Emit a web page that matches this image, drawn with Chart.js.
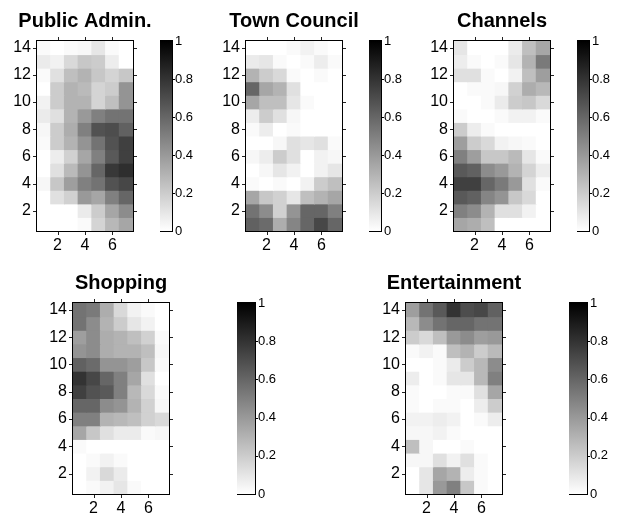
<!DOCTYPE html>
<html><head><meta charset="utf-8">
<script src="https://cdn.jsdelivr.net/npm/chart.js@4/dist/chart.umd.min.js"></script>
<style>
html,body{margin:0;padding:0;background:#fff;width:622px;height:522px;overflow:hidden;position:relative;}
canvas{position:absolute;}
</style></head><body>
<script>
// ---- data ----
const cols = [1, 2, 3, 4, 5, 6, 7];
const rows = [14, 13, 12, 11, 10, 9, 8, 7, 6, 5, 4, 3, 2, 1];
const xTicks = [2, 4, 6];
const yTicks = [2, 4, 6, 8, 10, 12, 14];
const cbTicks = [0, 0.2, 0.4, 0.6, 0.8, 1];
const titles = ['Public Admin.', 'Town Council', 'Channels', 'Shopping', 'Entertainment'];

// rows listed from y=14 (top) down to y=1 (bottom), columns 1..7
const publicAdmin = [
  [0.02,0.00,0.02,0.03,0.10,0.02,0.00],
  [0.08,0.05,0.15,0.22,0.20,0.07,0.00],
  [0.02,0.12,0.25,0.30,0.22,0.17,0.22],
  [0.00,0.20,0.30,0.27,0.17,0.20,0.42],
  [0.05,0.20,0.30,0.30,0.17,0.25,0.42],
  [0.08,0.12,0.30,0.40,0.50,0.55,0.55],
  [0.03,0.20,0.32,0.50,0.68,0.70,0.62],
  [0.02,0.20,0.30,0.42,0.55,0.68,0.75],
  [0.00,0.07,0.18,0.35,0.50,0.65,0.75],
  [0.00,0.12,0.27,0.42,0.60,0.78,0.82],
  [0.03,0.22,0.38,0.50,0.55,0.68,0.72],
  [0.00,0.12,0.18,0.40,0.35,0.50,0.60],
  [0.00,0.00,0.00,0.08,0.20,0.35,0.45],
  [0.00,0.00,0.00,0.02,0.17,0.28,0.35]
];
const townCouncil = [
  [0.00,0.00,0.00,0.02,0.05,0.02,0.00],
  [0.08,0.10,0.02,0.00,0.02,0.07,0.02],
  [0.30,0.20,0.15,0.02,0.00,0.02,0.00],
  [0.60,0.35,0.30,0.12,0.00,0.00,0.00],
  [0.35,0.25,0.25,0.10,0.02,0.00,0.00],
  [0.07,0.20,0.12,0.03,0.00,0.00,0.00],
  [0.02,0.07,0.00,0.02,0.00,0.00,0.00],
  [0.00,0.00,0.03,0.12,0.10,0.12,0.02],
  [0.03,0.07,0.20,0.12,0.00,0.05,0.03],
  [0.00,0.03,0.10,0.05,0.00,0.05,0.10],
  [0.02,0.00,0.02,0.00,0.05,0.20,0.25],
  [0.35,0.22,0.18,0.10,0.25,0.30,0.35],
  [0.55,0.45,0.18,0.42,0.60,0.60,0.50],
  [0.62,0.58,0.32,0.48,0.60,0.72,0.60]
];
const channels = [
  [0.10,0.00,0.00,0.00,0.08,0.25,0.35],
  [0.07,0.02,0.00,0.02,0.10,0.30,0.52],
  [0.12,0.12,0.02,0.00,0.05,0.25,0.38],
  [0.00,0.02,0.02,0.03,0.18,0.32,0.28],
  [0.00,0.00,0.02,0.08,0.20,0.22,0.15],
  [0.02,0.00,0.00,0.02,0.05,0.05,0.02],
  [0.20,0.07,0.02,0.00,0.00,0.00,0.00],
  [0.38,0.20,0.15,0.05,0.03,0.02,0.00],
  [0.50,0.38,0.22,0.22,0.27,0.10,0.02],
  [0.65,0.62,0.45,0.40,0.30,0.17,0.07],
  [0.75,0.75,0.60,0.52,0.40,0.12,0.02],
  [0.65,0.62,0.48,0.42,0.22,0.15,0.00],
  [0.50,0.45,0.30,0.12,0.12,0.05,0.00],
  [0.35,0.32,0.25,0.00,0.00,0.00,0.00]
];
const shopping = [
  [0.55,0.52,0.32,0.15,0.05,0.02,0.00],
  [0.55,0.45,0.30,0.20,0.10,0.05,0.00],
  [0.38,0.45,0.32,0.30,0.25,0.18,0.02],
  [0.42,0.45,0.32,0.30,0.30,0.25,0.03],
  [0.62,0.58,0.42,0.42,0.38,0.22,0.02],
  [0.80,0.72,0.60,0.50,0.35,0.12,0.00],
  [0.75,0.68,0.65,0.50,0.28,0.15,0.02],
  [0.60,0.60,0.45,0.42,0.30,0.18,0.03],
  [0.50,0.50,0.30,0.28,0.25,0.18,0.15],
  [0.35,0.22,0.12,0.08,0.08,0.02,0.03],
  [0.02,0.00,0.00,0.00,0.00,0.00,0.00],
  [0.00,0.02,0.05,0.02,0.00,0.00,0.00],
  [0.00,0.05,0.15,0.08,0.00,0.00,0.00],
  [0.00,0.02,0.05,0.10,0.02,0.00,0.00]
];
const entertainment = [
  [0.38,0.55,0.65,0.80,0.70,0.72,0.62],
  [0.28,0.45,0.55,0.60,0.60,0.55,0.55],
  [0.20,0.15,0.25,0.40,0.45,0.38,0.40],
  [0.02,0.05,0.02,0.25,0.30,0.20,0.27],
  [0.00,0.00,0.02,0.08,0.20,0.28,0.45],
  [0.07,0.00,0.02,0.10,0.10,0.28,0.50],
  [0.02,0.00,0.00,0.02,0.02,0.12,0.35],
  [0.02,0.00,0.02,0.02,0.00,0.07,0.20],
  [0.05,0.05,0.07,0.05,0.00,0.02,0.07],
  [0.03,0.03,0.05,0.02,0.00,0.00,0.00],
  [0.25,0.03,0.00,0.00,0.02,0.00,0.00],
  [0.03,0.03,0.12,0.05,0.12,0.02,0.00],
  [0.00,0.10,0.35,0.30,0.07,0.02,0.00],
  [0.00,0.10,0.40,0.50,0.22,0.02,0.00]
];
const panelValues = [publicAdmin, townCouncil, channels, shopping, entertainment];

// ---- layout (pixels) ----
const layouts = [
  {l: 37,  t: 41,  w: 96, h: 190, cbl: 160, cbw: 12},
  {l: 246, t: 41,  w: 96, h: 190, cbl: 369, cbw: 12},
  {l: 454, t: 41,  w: 96, h: 190, cbl: 577, cbw: 12},
  {l: 73,  t: 303, w: 96, h: 191, cbl: 237, cbw: 18},
  {l: 406, t: 303, w: 96, h: 191, cbl: 569, cbw: 18}
];
const YW = 40, TH = 40, XH = 28, PR = 40;
const FONT = '"Liberation Sans", Arial, Helvetica, sans-serif';

Chart.defaults.font.family = FONT;
Chart.defaults.color = '#000';

function gray(v) {
  const g = Math.round(255 * (1 - v));
  return `rgb(${g},${g},${g})`;
}

// title centred over the plot box, drawn without width compression
const panelTitlePlugin = {
  id: 'panelTitle',
  afterDraw(chart, args, opts) {
    const {ctx, chartArea: a} = chart;
    ctx.save();
    ctx.fillStyle = '#000';
    ctx.font = 'bold 20px ' + FONT;
    ctx.textAlign = 'center';
    ctx.textBaseline = 'middle';
    ctx.fillText(opts.text, (a.left + a.right) / 2, a.top - 20);
    ctx.restore();
  }
};

const framePlugin = {
  id: 'frame',
  afterDatasetsDraw(chart) {
    const {ctx, chartArea: a, scales} = chart;
    ctx.save();
    ctx.strokeStyle = '#000';
    ctx.lineWidth = 1;
    ctx.strokeRect(a.left - 0.5, a.top - 0.5, a.right - a.left + 1, a.bottom - a.top + 1);
    ctx.strokeStyle = '#222';
    ctx.beginPath();
    xTicks.forEach(v => {
      const x = Math.round(scales.x.getPixelForValue(cols.indexOf(v))) + 0.5;
      ctx.moveTo(x, a.top - 1); ctx.lineTo(x, a.top - 4);
      ctx.moveTo(x, a.bottom + 1); ctx.lineTo(x, a.bottom + 4);
    });
    yTicks.forEach(v => {
      const y = Math.round(scales.y.getPixelForValue(v)) + 0.5;
      ctx.moveTo(a.left - 1, y); ctx.lineTo(a.left - 4, y);
      ctx.moveTo(a.right + 1, y); ctx.lineTo(a.right + 4, y);
    });
    ctx.stroke();
    ctx.restore();
  }
};

const cbFramePlugin = {
  id: 'cbframe',
  afterDatasetsDraw(chart) {
    const {ctx, chartArea: a, scales} = chart;
    ctx.save();
    ctx.strokeStyle = '#000';
    ctx.lineWidth = 1;
    ctx.strokeRect(a.left - 0.5, a.top - 0.5, a.right - a.left + 1, a.bottom - a.top + 1);
    ctx.beginPath();
    cbTicks.slice(1, -1).forEach(v => {
      const y = Math.round(scales.y.getPixelForValue(v)) + 0.5;
      ctx.moveTo(a.right, y); ctx.lineTo(a.right + 3, y);
    });
    ctx.stroke();
    ctx.restore();
  }
};

function addCanvas(left, top, w, h) {
  const c = document.createElement('canvas');
  c.width = w; c.height = h;
  c.style.left = left + 'px'; c.style.top = top + 'px';
  c.style.width = w + 'px'; c.style.height = h + 'px';
  document.body.appendChild(c);
  return c;
}

layouts.forEach((L, p) => {
  const values = panelValues[p];
  // heatmap
  const c = addCanvas(L.l - YW, L.t - TH, YW + L.w + PR, TH + L.h + XH);
  new Chart(c, {
    type: 'bar',
    data: {
      labels: cols.map(String),
      datasets: rows.map((r, i) => ({
        data: cols.map(() => [r - 0.5, r + 0.5]),
        backgroundColor: values[i].map(gray),
        borderWidth: 0,
        grouped: false,
        barPercentage: 1,
        categoryPercentage: 1,
        inflateAmount: 0.5
      }))
    },
    options: {
      responsive: false, animation: false, events: [],
      layout: {padding: {left: 0, right: PR, top: TH, bottom: 0}},
      plugins: {
        legend: {display: false},
        tooltip: {enabled: false},
        title: {display: false},
        panelTitle: {text: titles[p]}
      },
      scales: {
        x: {
          type: 'category', offset: true,
          grid: {display: false, drawTicks: false}, border: {display: false},
          ticks: {autoSkip: false, maxRotation: 0, minRotation: 0, padding: 5, font: {size: 16},
            callback: (v, i) => xTicks.includes(cols[i]) ? String(cols[i]) : ''},
          afterFit: s => { s.height = XH; s.paddingLeft = 0; s.paddingRight = 0; }
        },
        y: {
          type: 'linear', min: 0.5, max: 14.5,
          grid: {display: false, drawTicks: false}, border: {display: false},
          ticks: {padding: 6, font: {size: 16}, callback: v => String(v)},
          afterBuildTicks: s => { s.ticks = yTicks.map(v => ({value: v})); },
          afterFit: s => { s.width = YW; s.paddingTop = 0; s.paddingBottom = 0; }
        }
      }
    },
    plugins: [framePlugin, panelTitlePlugin]
  });

  // colorbar
  const cc = addCanvas(L.cbl, L.t - 10, L.cbw + 34, L.h + 20);
  new Chart(cc, {
    type: 'bar',
    data: {
      labels: [''],
      datasets: [{
        data: [[cbTicks[0], cbTicks[cbTicks.length - 1]]],
        backgroundColor: ctx => {
          const ch = ctx.chart, y = ch.scales.y;
          if (!ch.chartArea || !y) return '#888';
          const g = ch.ctx.createLinearGradient(0, y.getPixelForValue(0), 0, y.getPixelForValue(1));
          g.addColorStop(0, gray(0));
          g.addColorStop(1, gray(1));
          return g;
        },
        borderWidth: 0, barPercentage: 1, categoryPercentage: 1
      }]
    },
    options: {
      responsive: false, animation: false, events: [],
      layout: {padding: {left: 0, right: 0, top: 10, bottom: 10}},
      plugins: {legend: {display: false}, tooltip: {enabled: false}},
      scales: {
        x: {display: false},
        y: {
          position: 'right', min: 0, max: 1,
          grid: {display: false, drawTicks: false}, border: {display: false},
          ticks: {padding: 3, font: {size: 13}, callback: v => String(v)},
          afterBuildTicks: s => { s.ticks = cbTicks.map(v => ({value: v})); },
          afterFit: s => { s.width = 34; s.paddingTop = 0; s.paddingBottom = 0; }
        }
      }
    },
    plugins: [cbFramePlugin]
  });
});
</script>
</body></html>
